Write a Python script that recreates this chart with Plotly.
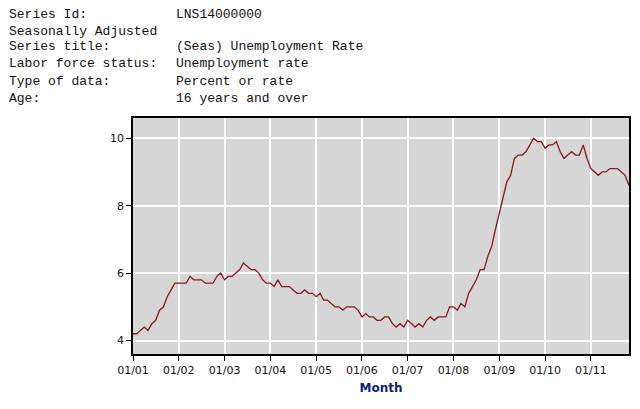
import plotly.graph_objects as go
import pandas as pd

months = pd.date_range("2001-01-01", "2011-11-01", freq="MS").strftime("%Y-%m-%d").tolist()

unemployment_rate = [
    4.2, 4.2, 4.3, 4.4, 4.3, 4.5, 4.6, 4.9, 5.0, 5.3, 5.5, 5.7,
    5.7, 5.7, 5.7, 5.9, 5.8, 5.8, 5.8, 5.7, 5.7, 5.7, 5.9, 6.0,
    5.8, 5.9, 5.9, 6.0, 6.1, 6.3, 6.2, 6.1, 6.1, 6.0, 5.8, 5.7,
    5.7, 5.6, 5.8, 5.6, 5.6, 5.6, 5.5, 5.4, 5.4, 5.5, 5.4, 5.4,
    5.3, 5.4, 5.2, 5.2, 5.1, 5.0, 5.0, 4.9, 5.0, 5.0, 5.0, 4.9,
    4.7, 4.8, 4.7, 4.7, 4.6, 4.6, 4.7, 4.7, 4.5, 4.4, 4.5, 4.4,
    4.6, 4.5, 4.4, 4.5, 4.4, 4.6, 4.7, 4.6, 4.7, 4.7, 4.7, 5.0,
    5.0, 4.9, 5.1, 5.0, 5.4, 5.6, 5.8, 6.1, 6.1, 6.5, 6.8, 7.3,
    7.8, 8.3, 8.7, 8.9, 9.4, 9.5, 9.5, 9.6, 9.8, 10.0, 9.9, 9.9,
    9.7, 9.8, 9.8, 9.9, 9.6, 9.4, 9.5, 9.6, 9.5, 9.5, 9.8, 9.4,
    9.1, 9.0, 8.9, 9.0, 9.0, 9.1, 9.1, 9.1, 9.0, 8.9, 8.6,
]

header_labels = ["Series Id:", "Seasonally Adjusted", "Series title:",
                 "Labor force status:", "Type of data:", "Age:"]
header_values = ["LNS14000000", "", "(Seas) Unemployment Rate",
                 "Unemployment rate", "Percent or rate", "16 years and over"]

y_ticks = [4, 6, 8, 10]

fig = go.Figure()
fig.add_trace(go.Scatter(
    x=months, y=unemployment_rate, mode="lines",
    line=dict(color="#8b1a1a", width=1.3), showlegend=False,
))

W, H = 632, 401
L, R, T, B = 125, 9, 110, 55
pw, ph = W - L - R, H - T - B

annotations = []
line_centers = [6, 23, 39, 56, 73, 90]
for lab, val, cy in zip(header_labels, header_values, line_centers):
    py = (H - B - cy) / ph
    annotations.append(dict(
        text=lab, x=(-2 - L) / pw, y=py, xref="paper", yref="paper",
        xanchor="left", yanchor="middle", showarrow=False,
        font=dict(family="Liberation Mono", size=13, color="#111"),
    ))
    if val:
        annotations.append(dict(
            text=val, x=(166 - L) / pw, y=py, xref="paper", yref="paper",
            xanchor="left", yanchor="middle", showarrow=False,
            font=dict(family="Liberation Mono", size=13, color="#111"),
        ))

fig.update_layout(
    width=W, height=H,
    margin=dict(l=L, r=R, t=T, b=B),
    paper_bgcolor="white", plot_bgcolor="#d6d6d6",
    annotations=annotations,
    xaxis=dict(
        type="date", range=["2001-01-01", "2011-11-01"],
        tick0="2001-01-01", dtick="M12", tickformat="%m/%y",
        showgrid=True, gridcolor="white", gridwidth=1.5,
        ticks="outside", ticklen=5, tickcolor="black", tickwidth=1,
        showline=True, linecolor="black", linewidth=1.5, mirror=True,
        tickfont=dict(family="DejaVu Sans", size=11, color="#111"),
        title=dict(text="<b>Month</b>", standoff=8,
                   font=dict(family="DejaVu Sans", size=12, color="#0b1f7a")),
        zeroline=False,
    ),
    yaxis=dict(
        range=[3.6, 10.6], tickvals=y_ticks,
        showgrid=True, gridcolor="white", gridwidth=1.5,
        ticks="outside", ticklen=5, tickcolor="black", tickwidth=1,
        showline=True, linecolor="black", linewidth=1.5, mirror=True,
        tickfont=dict(family="DejaVu Sans", size=11, color="#111"),
        zeroline=False,
    ),
)

fig.write_html("out.html")
